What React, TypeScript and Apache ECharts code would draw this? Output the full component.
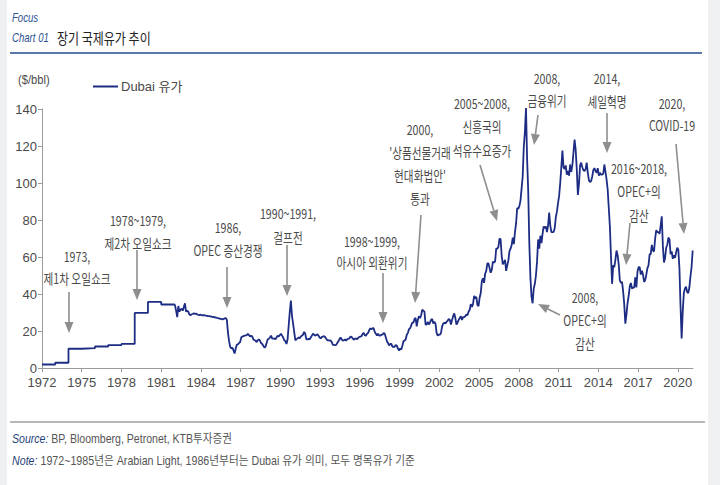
import React, { useEffect, useRef } from "react";
import * as echarts from "echarts";

// Annual (BP) values, drawn as yearly steps, 1972-1981
const annualYears = [1972, 1973, 1974, 1975, 1976, 1977, 1978, 1979, 1980, 1981];
const annualValues = [1.9, 2.83, 10.41, 10.7, 11.63, 12.38, 13.03, 29.75, 35.69, 34.32];

// Monthly values ($/bbl), Jan 1982 onward
const monthly1980s = [
  33.8, 31.0, 27.5, 33.5, 30.5, 31.5, 32.0, 31.0, 33.0, 35.0, 30.5, 31.0,
  30.5, 29.0, 28.5, 29.0, 29.2, 29.5, 29.3, 29.4, 29.0, 28.8, 28.5, 28.8,
  28.6, 28.4, 28.6, 28.5, 28.3, 28.2, 28.0, 28.1, 27.8, 27.9, 27.5, 27.6,
  27.4, 27.3, 27.1, 27.0, 26.8, 26.5, 26.6, 26.2, 26.5, 26.8, 27.0, 26.0,
  19.0, 14.5, 11.5, 10.5, 11.0, 9.5, 7.8, 10.5, 12.5, 12.8, 13.5, 14.0,
  16.5, 17.0, 17.2, 17.5, 17.6, 17.8, 18.5, 17.8, 17.0, 17.5, 17.0, 15.5,
  15.0, 14.8, 14.0, 15.0, 15.5, 14.8, 13.5, 13.0, 12.0, 11.0, 11.5, 13.5,
  15.5, 15.8, 16.5, 17.5, 16.0, 15.8, 16.0, 15.5, 16.5, 17.5, 17.0, 17.8,
];
const monthly1990s = [
  18.5, 17.5, 16.5, 15.0, 14.5, 13.0, 15.5, 23.0, 30.5, 36.5, 28.0, 24.0,
  19.5, 15.0, 15.5, 16.0, 16.5, 16.0, 17.0, 17.5, 18.0, 19.5, 18.5, 15.5,
  15.5, 15.8, 15.5, 16.5, 17.5, 18.5, 18.0, 17.5, 17.8, 18.2, 17.5, 16.5,
  16.0, 16.8, 17.0, 17.2, 16.8, 15.8, 15.0, 15.0, 14.8, 14.9, 14.0, 12.5,
  12.5, 12.3, 12.5, 13.5, 14.5, 15.5, 16.5, 15.5, 14.8, 15.0, 15.5, 14.8,
  15.5, 15.8, 16.0, 17.0, 16.8, 16.0, 15.3, 15.8, 16.0, 15.5, 16.3, 16.8,
  17.0, 17.2, 18.5, 19.0, 17.6, 17.5, 18.5, 19.0, 20.5, 21.5, 20.8, 21.5,
  21.5, 19.5, 18.5, 17.5, 18.5, 17.5, 17.5, 18.0, 18.0, 19.0, 18.5, 16.5,
  14.5, 13.5, 12.2, 13.0, 13.0, 11.5, 11.5, 11.5, 12.5, 12.0, 10.5, 9.5,
  10.5, 10.0, 12.0, 14.5, 14.8, 15.5, 18.0, 19.0, 21.0, 21.5, 23.0, 24.5,
];
const monthly2000s = [
  24.5, 26.5, 27.0, 22.5, 26.0, 28.0, 27.0, 28.5, 31.5, 31.0, 30.5, 23.5,
  23.5, 25.0, 23.5, 24.5, 26.0, 26.5, 24.0, 25.0, 24.0, 19.0, 17.5, 18.0,
  18.0, 19.0, 22.5, 24.0, 24.5, 24.0, 25.0, 25.5, 26.5, 26.0, 23.5, 26.0,
  28.0, 29.5, 27.0, 23.5, 24.5, 26.0, 27.0, 28.0, 26.0, 27.5, 27.5, 28.0,
  29.0, 28.5, 30.5, 31.5, 34.5, 33.0, 34.5, 39.0, 37.5, 38.5, 34.0, 33.5,
  38.0, 40.5, 47.0, 48.5, 46.0, 51.0, 52.5, 56.5, 56.5, 54.0, 51.5, 53.0,
  57.5, 57.0, 57.5, 64.5, 64.5, 65.5, 70.0, 69.5, 60.5, 56.0, 57.0, 58.5,
  52.5, 55.5, 58.0, 63.0, 64.5, 66.5, 70.5, 67.0, 73.5, 78.0, 86.5, 86.0,
  87.5, 90.5, 97.0, 103.5, 119.5, 127.5, 140.5, 113.0, 96.0, 67.5, 49.0, 38.5,
  35.0, 43.0, 45.5, 50.0, 57.5, 69.5, 64.5, 71.5, 67.5, 72.5, 76.5, 75.5,
];
const monthly2010s = [
  76.5, 73.5, 77.0, 84.0, 77.0, 73.5, 73.5, 73.5, 75.5, 81.5, 84.5, 89.0,
  93.0, 100.0, 108.5, 117.5, 108.5, 107.5, 109.5, 104.5, 106.5, 104.0, 110.0, 106.0,
  109.5, 116.5, 123.5, 118.0, 107.5, 93.5, 99.5, 109.5, 111.0, 108.5, 107.0, 106.5,
  107.5, 111.0, 105.5, 101.5, 100.5, 101.0, 103.5, 107.0, 108.0, 106.5, 105.5, 108.0,
  104.0, 105.5, 104.5, 104.5, 105.0, 110.0, 106.0, 102.0, 96.5, 86.5, 76.5, 60.5,
  45.5, 55.5, 54.5, 58.5, 63.5, 61.0, 56.0, 47.5, 46.0, 46.5, 41.5, 34.5,
  24.0, 29.0, 35.0, 39.0, 44.0, 46.0, 43.0, 43.5, 43.5, 49.0, 43.5, 52.0,
  54.5, 54.5, 50.5, 52.5, 50.5, 46.5, 47.5, 50.5, 54.0, 55.5, 61.5, 61.5,
  66.5, 63.5, 63.0, 70.0, 74.5, 73.5, 73.5, 72.5, 77.0, 82.0, 66.0, 57.0,
  59.5, 65.0, 66.5, 70.5, 69.5, 61.5, 63.0, 59.0, 61.0, 59.5, 62.5, 65.0,
];
const monthly2020s = [
  64.0, 54.0, 33.5, 16.0, 30.5, 40.5, 43.0, 44.0, 41.0, 40.5, 43.5, 49.5,
  54.5, 63.5,
];
const monthlyStartYear = 1982;

const yTicks = [0, 20, 40, 60, 80, 100, 120, 140];

const annotations: { lines: string[]; x: number; y: number; gap?: number }[] = [
  { lines: ["1973,", "제1차 오일쇼크"], x: 77, y: 256, gap: 22 },
  { lines: ["1978~1979,", "제2차 오일쇼크"], x: 138, y: 220, gap: 23 },
  { lines: ["1986,", "OPEC 증산경쟁"], x: 228, y: 227, gap: 23 },
  { lines: ["1990~1991,", "걸프전"], x: 288, y: 213, gap: 24 },
  { lines: ["1998~1999,", "아시아 외환위기"], x: 372, y: 241, gap: 21 },
  { lines: ["2000,", "'상품선물거래", "현대화법안'", "통과"], x: 420, y: 129, gap: 23 },
  { lines: ["2005~2008,", "신흥국의", "석유수요증가"], x: 482, y: 103, gap: 23.5 },
  { lines: ["2008,", "금융위기"], x: 547, y: 78, gap: 22 },
  { lines: ["2014,", "셰일혁명"], x: 607, y: 78, gap: 23.5 },
  { lines: ["2016~2018,", "OPEC+의", "감산"], x: 639, y: 168, gap: 23.5 },
  { lines: ["2020,", "COVID-19"], x: 672, y: 103, gap: 22 },
  { lines: ["2008,", "OPEC+의", "감산"], x: 585, y: 297, gap: 23 },
];

const arrows: number[][] = [
  [69, 292, 69, 333],
  [137, 250, 137, 300],
  [227, 267, 227, 308],
  [287, 245, 287, 296],
  [383, 273, 383, 323],
  [421, 215, 415, 303],
  [480, 165, 497, 221],
  [538, 115, 534, 145],
  [607, 113, 607, 153],
  [630, 223, 626, 265],
  [676, 144, 684, 234],
  [560, 315, 538, 304],
];

function buildData(): number[][] {
  const pts: number[][] = [];
  annualYears.forEach((yr, i) => {
    pts.push([yr, annualValues[i]]);
    pts.push([yr + 1, annualValues[i]]);
  });
  const all = [...monthly1980s, ...monthly1990s, ...monthly2000s, ...monthly2010s, ...monthly2020s];
  all.forEach((v, i) => {
    const yr = monthlyStartYear + Math.floor(i / 12);
    const m = i % 12;
    pts.push([yr + (m + 0.5) / 12, v]);
  });
  return pts;
}

const ARROW_COLOR = "#8e8e8e";
const TEXT_COLOR = "#4a4a4a";
const KFONT = "'Noto Sans CJK KR', sans-serif";
const NFONT = "'Liberation Sans', Arial, sans-serif";

export default function App() {
  const ref = useRef<HTMLDivElement>(null);
  useEffect(() => {
    if (!ref.current) return;
    const chart = echarts.init(ref.current, null, { renderer: "svg" });
    const graphics: any[] = [];
    // page edges
    graphics.push({ type: "rect", shape: { x: 0, y: 0, width: 7, height: 485 }, style: { fill: "#eef0f2" }, silent: true });
    graphics.push({ type: "rect", shape: { x: 708, y: 0, width: 12, height: 485 }, style: { fill: "#eef0f2" }, silent: true });
    // header
    graphics.push({ type: "text", x: 12, y: 18, scaleX: 0.8, style: { text: "Focus", font: `italic 12px ${NFONT}`, fill: "#2c4f8f", textVerticalAlign: "middle" } });
    graphics.push({ type: "text", x: 12, y: 38, scaleX: 0.8, style: { text: "Chart 01", font: `italic 12px ${NFONT}`, fill: "#2c4f8f", textVerticalAlign: "middle" } });
    graphics.push({ type: "text", x: 57, y: 37, scaleX: 0.8, style: { text: "장기 국제유가 추이", font: `15px ${KFONT}`, fill: "#222", textVerticalAlign: "middle" } });
    graphics.push({ type: "line", shape: { x1: 10, y1: 53, x2: 702, y2: 53 }, style: { stroke: "#5a7aa8", lineWidth: 2 } });
    // unit
    graphics.push({ type: "text", x: 18, y: 80, scaleX: 0.86, style: { text: "($/bbl)", font: `13px ${NFONT}`, fill: TEXT_COLOR, textVerticalAlign: "middle" } });
    // annotations
    annotations.forEach((a) => {
      a.lines.forEach((ln, i) => {
        graphics.push({
          type: "text",
          x: a.x,
          y: a.y + i * (a.gap || 23),
          scaleX: 0.76,
          style: { text: ln, font: `14px ${KFONT}`, fill: TEXT_COLOR, textAlign: "center", textVerticalAlign: "middle" },
        });
      });
    });
    arrows.forEach(([x1, y1, x2, y2]) => {
      const dx = x2 - x1, dy = y2 - y1;
      const len = Math.sqrt(dx * dx + dy * dy);
      const ux = dx / len, uy = dy / len;
      const hl = 11, hw = 4.5;
      const bx = x2 - ux * hl, by = y2 - uy * hl;
      graphics.push({ type: "line", shape: { x1, y1, x2: bx, y2: by }, style: { stroke: ARROW_COLOR, lineWidth: 1.6 } });
      graphics.push({
        type: "polygon",
        shape: { points: [[x2, y2], [bx - uy * hw, by + ux * hw], [bx + uy * hw, by - ux * hw]] },
        style: { fill: ARROW_COLOR },
      });
    });
    // footer
    graphics.push({ type: "line", shape: { x1: 10, y1: 422, x2: 705, y2: 422 }, style: { stroke: "#a0a0a0", lineWidth: 1.5 } });
    graphics.push({
      type: "text", x: 12, y: 439, scaleX: 0.88,
      style: {
        text: "{a|Source:} {b|BP, Bloomberg, Petronet, KTB투자증권}",
        textVerticalAlign: "middle",
        rich: {
          a: { font: `italic 12px ${NFONT}`, fill: "#1f3f7a" },
          b: { font: `12px ${NFONT}, 'Noto Sans CJK KR'`, fill: "#555" },
        },
      },
    });
    graphics.push({
      type: "text", x: 12, y: 461, scaleX: 0.89,
      style: {
        text: "{a|Note:} {b|1972~1985년은 Arabian Light, 1986년부터는 Dubai 유가 의미, 모두 명목유가 기준}",
        textVerticalAlign: "middle",
        rich: {
          a: { font: `italic 12px ${NFONT}`, fill: "#1f3f7a" },
          b: { font: `12px ${NFONT}, 'Noto Sans CJK KR'`, fill: "#555" },
        },
      },
    });

    chart.setOption({
      animation: false,
      backgroundColor: "#ffffff",
      grid: { left: 42, right: 27, top: 109, bottom: 117, containLabel: false },
      legend: {
        show: true,
        left: 88,
        top: 75,
        icon: "rect",
        itemWidth: 25,
        itemHeight: 2,
        itemGap: 10,
        textStyle: { fontFamily: NFONT + ", 'Noto Sans CJK KR'", fontSize: 13, color: TEXT_COLOR, padding: [0, 0, 0, -2] },
        data: ["Dubai 유가"],
      },
      xAxis: {
        type: "value",
        min: 1972,
        max: 2021.15,
        interval: 3,
        axisLine: { show: true, lineStyle: { color: "#9a9a9a", width: 1 } },
        axisTick: { show: true, length: 4, lineStyle: { color: "#9a9a9a" } },
        splitLine: { show: false },
        axisLabel: {
          showMaxLabel: false,
          margin: 8,
          fontFamily: NFONT,
          fontSize: 13,
          color: TEXT_COLOR,
          formatter: (v: number) => (Number.isInteger(v) ? String(v) : ""),
        },
      },
      yAxis: {
        type: "value",
        min: yTicks[0],
        max: yTicks[yTicks.length - 1],
        interval: 20,
        axisLine: { show: true, lineStyle: { color: "#9a9a9a", width: 1 } },
        axisTick: { show: true, length: 4, lineStyle: { color: "#9a9a9a" } },
        splitLine: { show: false },
        axisLabel: { margin: 5, fontFamily: NFONT, fontSize: 13, color: TEXT_COLOR },
      },
      series: [
        {
          name: "Dubai 유가",
          type: "line",
          data: buildData(),
          showSymbol: false,
          clip: false,
          lineStyle: { color: "#1d2d84", width: 1.8 },
          itemStyle: { color: "#1d2d84" },
        },
      ],
      graphic: graphics,
    });
    return () => chart.dispose();
  }, []);
  return <div ref={ref} style={{ position: "fixed", left: 0, top: 0, width: 720, height: 485 }} />;
}
